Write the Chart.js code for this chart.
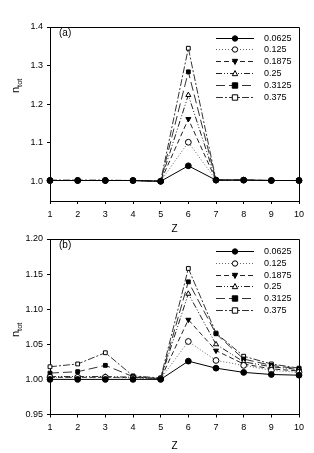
<!DOCTYPE html>
<html lang="en">
<head>
<meta charset="UTF-8">
<title>n_tot vs Z</title>
<script src="https://cdn.jsdelivr.net/npm/chart.js"></script>
<style>
  body { margin: 0; background: #fff; }
  #wrap { position: relative; width: 314px; height: 453px; }
  canvas { position: absolute; left: 0; }
</style>
</head>
<body>
<div id="wrap">
  <canvas id="chartA" width="314" height="236" style="top:0"></canvas>
  <canvas id="chartB" width="314" height="227" style="top:226px"></canvas>
</div>
<script>
// x positions (Z) and series names
const zValues = [1, 2, 3, 4, 5, 6, 7, 8, 9, 10];
const seriesLabels = ['0.0625', '0.125', '0.1875', '0.25', '0.3125', '0.375'];

// panel (a)
const a0625 = [1.003, 1.003, 1.003, 1.003, 1.001, 1.041, 1.004, 1.004, 1.003, 1.003];
const a125  = [1.003, 1.003, 1.003, 1.003, 1.001, 1.102, 1.004, 1.004, 1.003, 1.003];
const a1875 = [1.003, 1.003, 1.003, 1.003, 1.001, 1.162, 1.004, 1.004, 1.003, 1.003];
const a25   = [1.003, 1.003, 1.003, 1.003, 1.001, 1.224, 1.004, 1.004, 1.003, 1.003];
const a3125 = [1.003, 1.003, 1.003, 1.003, 1.001, 1.284, 1.004, 1.004, 1.003, 1.003];
const a375  = [1.004, 1.004, 1.004, 1.003, 1.001, 1.345, 1.004, 1.004, 1.003, 1.003];
const yTicksA = [1.0, 1.1, 1.2, 1.3, 1.4];

// panel (b)
const b0625 = [1.000, 1.000, 1.000, 1.000, 1.000, 1.026, 1.016, 1.010, 1.007, 1.006];
const b125  = [1.003, 1.003, 1.003, 1.002, 1.001, 1.054, 1.027, 1.020, 1.013, 1.010];
const b1875 = [1.003, 1.003, 1.003, 1.003, 1.001, 1.085, 1.041, 1.022, 1.015, 1.012];
const b25   = [1.004, 1.004, 1.004, 1.003, 1.001, 1.122, 1.050, 1.025, 1.018, 1.014];
const b3125 = [1.009, 1.011, 1.020, 1.004, 1.001, 1.139, 1.065, 1.029, 1.020, 1.015];
const b375  = [1.018, 1.022, 1.038, 1.005, 1.002, 1.158, 1.066, 1.033, 1.022, 1.016];
const yTicksB = [0.95, 1.00, 1.05, 1.10, 1.15, 1.20];

const FONT = '"Liberation Sans", Arial, sans-serif';

// line / marker style per series
const looks = [
  { dash: [],                  pt: 'circle',   rot: 0,   fill: '#000', color: '#000' },
  { dash: [1, 2],              pt: 'circle',   rot: 0,   fill: '#fff', color: '#666' },
  { dash: [5, 3],              pt: 'triangle', rot: 180, fill: '#000', color: '#222' },
  { dash: [6, 2, 1, 2, 1, 2],  pt: 'triangle', rot: 0,   fill: '#fff', color: '#222' },
  { dash: [9, 4],              pt: 'rect',     rot: 0,   fill: '#000', color: '#333' },
  { dash: [7, 2, 2, 2],        pt: 'rect',     rot: 0,   fill: '#fff', color: '#333' }
];

function makeSets(list) {
  return list.map((vals, i) => ({
    label: seriesLabels[i],
    data: vals,
    borderColor: looks[i].color,
    borderWidth: 1,
    borderDash: looks[i].dash,
    pointStyle: looks[i].pt,
    pointRotation: looks[i].rot,
    pointRadius: looks[i].pt === 'rect' ? 2.7 : 2.9,
    pointBorderColor: '#000',
    pointBorderWidth: 1,
    pointBackgroundColor: looks[i].fill,
    tension: 0
  }));
}

function marker(ctx, style, rot, x, y, r, fill) {
  ctx.beginPath();
  if (style === 'circle') {
    ctx.arc(x, y, r, 0, Math.PI * 2);
  } else if (style === 'rect') {
    ctx.rect(x - r, y - r, 2 * r, 2 * r);
  } else {
    const s = rot === 180 ? -1 : 1;
    ctx.moveTo(x, y - s * r * 1.1);
    ctx.lineTo(x - r, y + s * r * 0.8);
    ctx.lineTo(x + r, y + s * r * 0.8);
    ctx.closePath();
  }
  ctx.fillStyle = fill;
  ctx.fill();
  ctx.strokeStyle = '#000';
  ctx.lineWidth = 1;
  ctx.stroke();
}

// frame, legend, panel tag and n_tot axis label
const decor = {
  id: 'decor',
  afterDraw(chart, args, o) {
    const { ctx, chartArea: a } = chart;
    ctx.save();
    ctx.strokeStyle = '#000';
    ctx.lineWidth = 1;
    ctx.setLineDash([]);
    ctx.beginPath();
    ctx.moveTo(a.left, Math.round(a.top) + 0.5);
    ctx.lineTo(Math.round(a.right) + 0.5, Math.round(a.top) + 0.5);
    ctx.lineTo(Math.round(a.right) + 0.5, a.bottom);
    ctx.stroke();

    chart.data.datasets.forEach((ds, i) => {
      const y = Math.round(o.legendY + i * o.legendGap) + 0.5;
      ctx.setLineDash(ds.borderDash);
      ctx.strokeStyle = ds.borderColor;
      ctx.lineWidth = 1;
      ctx.beginPath();
      ctx.moveTo(216, y);
      ctx.lineTo(254, y);
      ctx.stroke();
      ctx.setLineDash([]);
      marker(ctx, ds.pointStyle, ds.pointRotation, 235, y, 2.7, ds.pointBackgroundColor);
      ctx.fillStyle = '#000';
      ctx.font = '9px ' + FONT;
      ctx.textBaseline = 'middle';
      ctx.textAlign = 'left';
      ctx.fillText(ds.label, 264, y);
    });

    ctx.font = '10px ' + FONT;
    ctx.fillStyle = '#000';
    ctx.textBaseline = 'middle';
    ctx.fillText(o.tag, 59, o.tagY);

    ctx.translate(19, o.titleY);
    ctx.rotate(-Math.PI / 2);
    ctx.textBaseline = 'alphabetic';
    ctx.font = '11px ' + FONT;
    ctx.fillText('n', 0, 0);
    const w = ctx.measureText('n').width;
    ctx.font = '7.5px ' + FONT;
    ctx.fillText('tot', w, 2.5);
    ctx.restore();
  }
};

function build(id, sets, yMin, yMax, ticks, digits, padTop, xHeight, o) {
  return new Chart(document.getElementById(id), {
    type: 'line',
    data: { labels: zValues, datasets: makeSets(sets) },
    options: {
      responsive: false,
      animation: false,
      layout: { padding: { top: padTop, right: 15, left: 0, bottom: 0 } },
      plugins: { legend: { display: false }, tooltip: { enabled: false }, decor: o },
      scales: {
        x: {
          offset: false,
          grid: { display: true, drawOnChartArea: false, drawTicks: true, tickLength: 3, color: '#000' },
          border: { color: '#000', width: 1 },
          ticks: { color: '#000', font: { size: 9, family: FONT }, padding: 5, maxRotation: 0, autoSkip: false },
          title: { display: true, text: 'Z', color: '#000', font: { size: 10, family: FONT }, padding: { top: 0, bottom: 1 } },
          afterFit: s => { s.height = xHeight; }
        },
        y: {
          min: yMin,
          max: yMax,
          afterBuildTicks: s => { s.ticks = ticks.map(v => ({ value: v })); },
          grid: { display: true, drawOnChartArea: false, drawTicks: true, tickLength: 3, color: '#000' },
          border: { color: '#000', width: 1 },
          ticks: { color: '#000', font: { size: 9, family: FONT }, padding: 4,
                   callback: v => Number(v).toFixed(digits) },
          afterFit: s => { s.width = 50; }
        }
      }
    },
    plugins: [decor]
  });
}

build('chartA', [a0625, a125, a1875, a25, a3125, a375], 0.95, 1.4, yTicksA, 1, 27, 35,
      { legendY: 37.5, legendGap: 11.95, tag: '(a)', tagY: 33, titleY: 93 });
build('chartB', [b0625, b125, b1875, b25, b3125, b375], 0.95, 1.2, yTicksB, 2, 13, 38.5,
      { legendY: 25, legendGap: 11.8, tag: '(b)', tagY: 19.7, titleY: 111 });
</script>
</body>
</html>
